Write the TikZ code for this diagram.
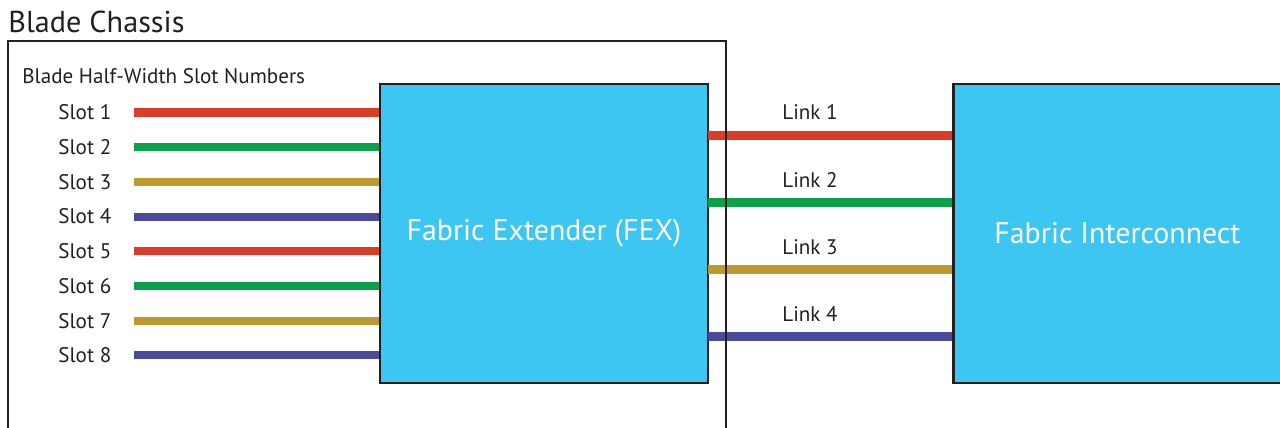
\documentclass[tikz,border=0pt]{standalone}
\usepackage{fontspec}
\setmainfont{PT Sans}
\usepackage{xcolor}
\usepackage{tikz}
\usetikzlibrary{positioning}
\definecolor{boxblue}{HTML}{3EC6F2}
\definecolor{inkgray}{HTML}{231F20}
\definecolor{lred}{HTML}{DC3C26}
\definecolor{lgreen}{HTML}{0BA04A}
\definecolor{lgold}{HTML}{BF9830}
\definecolor{lblue}{HTML}{4A4A9C}

\begin{document}
\begin{tikzpicture}[x=0.02cm,y=-0.02cm,
  unit/.style={draw=inkgray,line width=1.2pt,fill=boxblue,text=white,
    minimum width=6.56cm,minimum height=5.98cm,inner sep=0,font=\fontsize{17}{20}\selectfont},
  lbl/.style={text=inkgray,inner sep=0,font=\fontsize{12}{14}\selectfont},
  wire/.style={line width=4.6pt}]
\useasboundingbox (0,0) rectangle (1280,427);
  \node[anchor=base west,inner sep=0,text=inkgray,font=\fontsize{17.2}{20}\selectfont] (title) at (8,32) {Blade Chassis};
  \draw[inkgray,line width=1.1pt] (8,41) rectangle (726,460);
  \node[lbl,anchor=base west] (slotnums) at (22,83) {Blade Half-Width Slot Numbers};
    \node[unit] (fex) at (544,233.5) {\raisebox{-2pt}{Fabric Extender (FEX)}};
    \node[unit,right=4.87cm of fex] (fi) {\raisebox{-2pt}{Fabric Interconnect}};
  % slots
  \node[lbl,anchor=west] (s1) at (58,112.5) {Slot 1};
  \node[lbl,anchor=west] (s2) at (58,147.2) {Slot 2};
  \node[lbl,anchor=west] (s3) at (58,181.9) {Slot 3};
  \node[lbl,anchor=west] (s4) at (58,216.6) {Slot 4};
  \node[lbl,anchor=west] (s5) at (58,251.3) {Slot 5};
  \node[lbl,anchor=west] (s6) at (58,286) {Slot 6};
  \node[lbl,anchor=west] (s7) at (58,320.7) {Slot 7};
  \node[lbl,anchor=west] (s8) at (58,355.4) {Slot 8};
  \coordinate (a1) at (134,112.5);
  \coordinate (a2) at (134,147.2);
  \coordinate (a3) at (134,181.9);
  \coordinate (a4) at (134,216.6);
  \coordinate (a5) at (134,251.3);
  \coordinate (a6) at (134,286);
  \coordinate (a7) at (134,320.7);
  \coordinate (a8) at (134,355.4);
    \draw[wire,lred] (a1) -- (a1 -| fex.west);
    \draw[wire,lgreen] (a2) -- (a2 -| fex.west);
    \draw[wire,lgold] (a3) -- (a3 -| fex.west);
    \draw[wire,lblue] (a4) -- (a4 -| fex.west);
    \draw[wire,lred] (a5) -- (a5 -| fex.west);
    \draw[wire,lgreen] (a6) -- (a6 -| fex.west);
    \draw[wire,lgold] (a7) -- (a7 -| fex.west);
    \draw[wire,lblue] (a8) -- (a8 -| fex.west);
  % links
  \coordinate (k1) at (708,135.5);
  \coordinate (k2) at (708,202.5);
  \coordinate (k3) at (708,269.5);
  \coordinate (k4) at (708,336.5);
    \draw[wire,lred] (k1) -- (k1 -| fi.west);
    \draw[wire,lgreen] (k2) -- (k2 -| fi.west);
    \draw[wire,lgold] (k3) -- (k3 -| fi.west);
    \draw[wire,lblue] (k4) -- (k4 -| fi.west);
  \node[lbl] (l1) at (810,112) {Link 1};
  \node[lbl] (l2) at (810,180) {Link 2};
  \node[lbl] (l3) at (810,247) {Link 3};
  \node[lbl] (l4) at (810,314) {Link 4};
  \draw[inkgray,line width=1.1pt] (726,41) -- (726,460);
\end{tikzpicture}
\end{document}
